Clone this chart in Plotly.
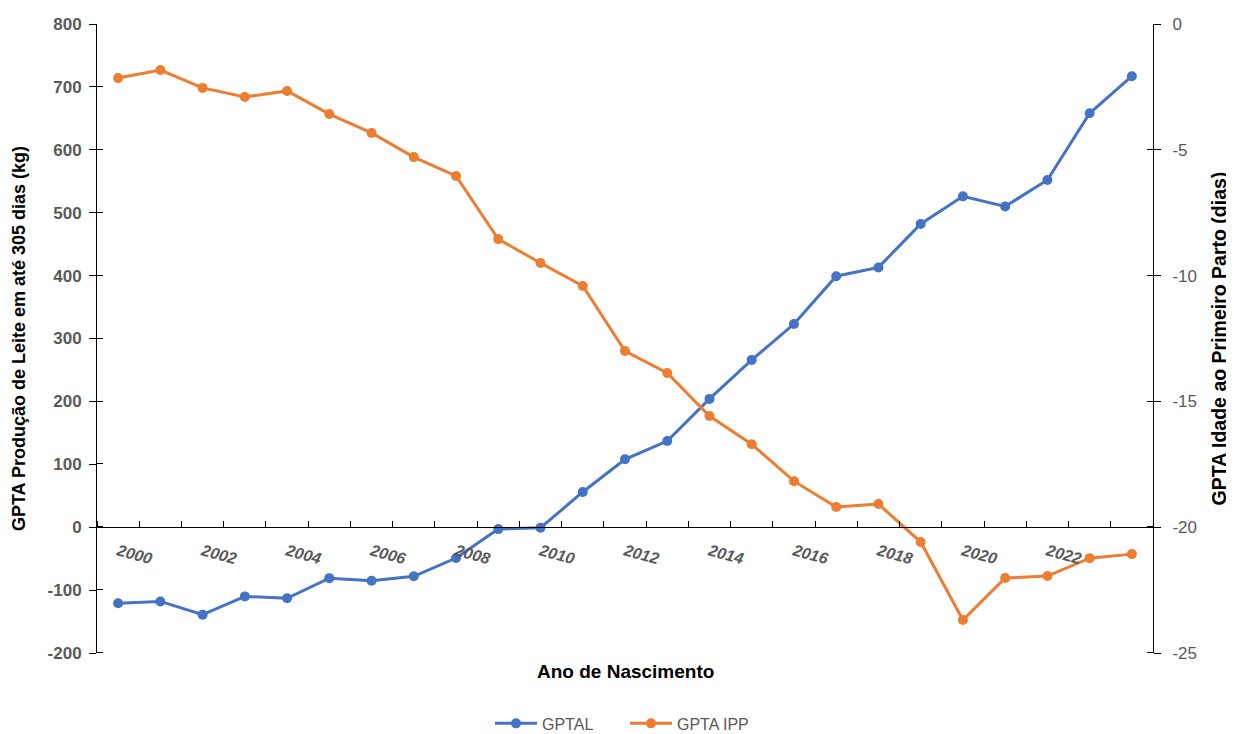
import plotly.graph_objects as go

years = list(range(2000, 2025))
gptal = [-121, -118, -139, -110, -113, -81, -85, -78, -49, -3, -1, 56, 108, 137,
         204, 266, 323, 399, 413, 482, 526, 510, 552, 658, 717]
gpta_ipp = [-2.15, -1.83, -2.54, -2.90, -2.66, -3.58, -4.33, -5.29, -6.04, -8.55,
            -9.50, -10.41, -13.0, -13.87, -15.58, -16.70, -18.17, -19.20, -19.08,
            -20.59, -23.69, -22.02, -21.94, -21.23, -21.07]
xtick_years = list(range(2000, 2024, 2))
left_ticks = [-200, -100, 0, 100, 200, 300, 400, 500, 600, 700, 800]
left_labels = ["-200", "-100", "0", "100", "200", "300", "400", "500", "600", "700", "800"]
right_ticks = [-25, -20, -15, -10, -5, 0]
right_labels = ["-25", "-20", "-15", "-10", "-5", "0"]

BLUE = "#4472C4"
ORANGE = "#ED7D31"
GREY = "#595959"
FONT = "Liberation Sans, Arial, sans-serif"
TITLE_FONT = "Liberation Sans Narrow, Liberation Sans, Arial"

fig = go.Figure()
fig.add_trace(go.Scatter(x=years, y=gptal, name="GPTAL", mode="lines+markers",
                         line=dict(color=BLUE, width=3), marker=dict(size=10, color=BLUE),
                         yaxis="y"))
fig.add_trace(go.Scatter(x=years, y=gpta_ipp, name="GPTA IPP", mode="lines+markers",
                         line=dict(color=ORANGE, width=3), marker=dict(size=10, color=ORANGE),
                         yaxis="y2"))

# page body adds an 8px offset; figure is sized so the plot lands where the reference has it
fig.update_layout(
    width=1226, height=726,
    margin=dict(l=89, r=81, t=16, b=81, autoexpand=False),
    plot_bgcolor="white", paper_bgcolor="white",
    font=dict(family=FONT, color=GREY),
    showlegend=True,
    legend=dict(orientation="h", x=0.5, xanchor="center", y=-0.112, yanchor="middle",
                font=dict(size=16, color=GREY), itemwidth=42,
                entrywidth=78, entrywidthmode="pixels"),
    xaxis=dict(
        range=[1999.5, 2024.5], anchor="free", position=0.2,
        showline=True, linecolor="#000000", linewidth=1,
        tickmode="array", tickvals=xtick_years, ticktext=[str(y) for y in xtick_years],
        ticks="", tickangle=15,
        tickfont=dict(size=16, color=GREY, weight="bold", style="italic"),
        ticklabelstandoff=8,
        minor=dict(tickmode="linear", tick0=1999.5, dtick=1, ticks="inside",
                   ticklen=6, tickcolor="#000000", showgrid=False),
        showgrid=False, zeroline=False, automargin=False,
    ),
    yaxis=dict(
        range=[-200, 800], tickmode="array", tickvals=left_ticks, ticktext=left_labels,
        showline=True, linecolor="#000000", linewidth=1,
        ticks="outside", ticklen=7, tickcolor="#000000",
        minor=dict(tickmode="linear", tick0=0.5, dtick=100, ticks="inside",
                   ticklen=6, tickcolor="#000000", showgrid=False),
        tickfont=dict(size=17, color=GREY, weight="bold"),
        ticklabelstandoff=4,
        showgrid=False, zeroline=False, automargin=False,
        title=dict(text="GPTA Produção de Leite em até 305 dias (kg)",
                   font=dict(size=18, color="#000000", weight="bold", family=TITLE_FONT),
                   standoff=17),
    ),
    yaxis2=dict(
        range=[-25, 0], tickmode="array", tickvals=right_ticks, ticktext=right_labels,
        overlaying="y", side="right", anchor="x",
        showline=True, linecolor="#000000", linewidth=1,
        ticks="outside", ticklen=7, tickcolor="#000000",
        minor=dict(tickmode="linear", tick0=0.01, dtick=5, ticks="inside",
                   ticklen=6, tickcolor="#000000", showgrid=False),
        tickfont=dict(size=17, color=GREY),
        ticklabelstandoff=8,
        showgrid=False, zeroline=False, automargin=False,
        title=dict(text="GPTA Idade ao Primeiro Parto (dias)",
                   font=dict(size=19.5, color="#000000", weight="bold", family=TITLE_FONT),
                   standoff=16),
    ),
    annotations=[dict(text="Ano de Nascimento", xref="paper", yref="paper",
                      x=0.5, y=-0.029, xanchor="center", yanchor="middle",
                      showarrow=False,
                      font=dict(size=19, color="#000000", weight="bold", family=TITLE_FONT))],
)

fig.write_html("out.html")
